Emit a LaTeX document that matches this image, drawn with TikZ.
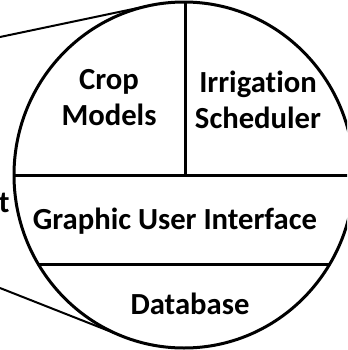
\documentclass[tikz,border=0pt]{standalone}
\usepackage{fontspec}
\setmainfont{Carlito}[Ligatures=NoCommon]
\tikzset{every picture/.style={line width=0.75pt}}
\newcommand{\lblfont}{\fontsize{23}{27}\selectfont\bfseries}

\begin{document}
\begin{tikzpicture}[x=0.75pt,y=0.75pt,yscale=-1,xscale=1]
%set diagram left start at 0, and has height of 350
\useasboundingbox (0,0) rectangle (347,350);
\clip (0,0) rectangle (347,350);

%Coordinates: tangent points and far ends
\coordinate (upfar) at (0,37);
\coordinate (uptan) at (149.8,5.5);
\coordinate (lowfar) at (0,288);
\coordinate (lowtan) at (122.8,336.4);

%Straight Lines [id:upper tangent]
\draw [line width=1.5]   (upfar) -- (uptan) ;
%Straight Lines [id:lower tangent]
\draw [line width=1.5]   (lowfar) -- (lowtan) ;

%Shape: Ellipse [id:zoom circle]
\draw  [line width=2.25]  (184,175) ellipse [x radius=170, y radius=173] ;

%Dividers clipped by the circle
\begin{scope}
\clip (184,175) ellipse [x radius=170, y radius=173];
%Straight Lines [id:middle divider]
\draw [line width=2.25]   (0,175) -- (360,175) ;
%Straight Lines [id:lower divider]
\draw [line width=2.25]   (0,264) -- (360,264) ;
%Straight Lines [id:upper divider]
\draw [line width=2.25]   (185,0) -- (185,175) ;
\end{scope}

% Text Node
\draw (109,98) node (crop) [anchor=center][inner sep=0.75pt]  [font=\lblfont] [align=center] {Crop\\Models};
% Text Node
\draw (258,100) node (irrig) [anchor=center][inner sep=0.75pt]  [font=\lblfont] [align=center] {Irrigation\\Scheduler};
% Text Node
\draw (175,221) node (gui) [anchor=center][inner sep=0.75pt]  [font=\lblfont] [align=center] {Graphic User Interface};
% Text Node
\draw (190,304) node (db) [anchor=center][inner sep=0.75pt]  [font=\lblfont] [align=center] {Database};
% Text Node
\draw (10,212) node (cut) [anchor=base east][inner sep=0pt]  [font=\lblfont] [align=left] {t};

\end{tikzpicture}
\end{document}
